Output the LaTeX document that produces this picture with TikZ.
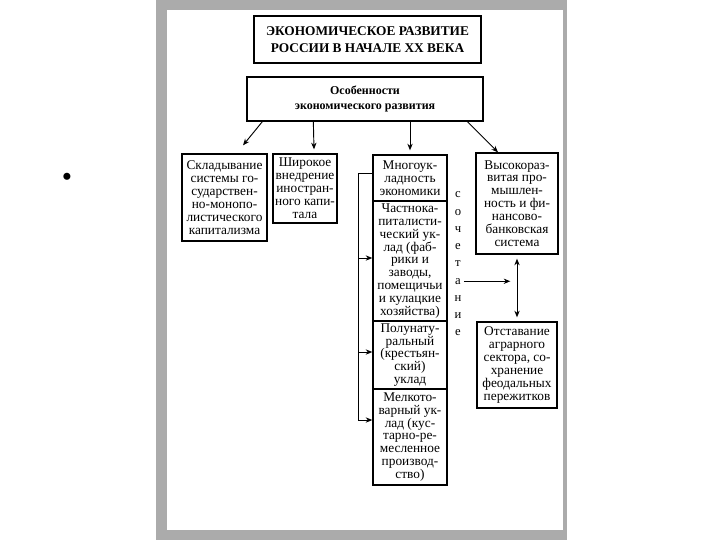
\documentclass[tikz,border=0pt]{standalone}
\usepackage{fontspec}
\setmainfont{Liberation Serif}
\usetikzlibrary{arrows.meta}
\begin{document}
\begin{tikzpicture}[x=0.75pt,y=-0.75pt,
  box/.style={draw,line width=1pt,inner sep=0pt,align=center,font=\fontsize{10}{9.7}\selectfont},
  sz/.style 2 args={minimum width={#1*0.75pt},minimum height={#2*0.75pt}},
  arr/.style={-{Stealth[length=5pt,width=4pt]},line width=0.7pt},
  dbl/.style={{Stealth[length=5pt,width=4pt]}-{Stealth[length=5pt,width=4pt]},line width=0.7pt},
  ln/.style={line width=0.7pt},
  letter/.style={inner sep=0pt,font=\fontsize{9.5}{9.5}\selectfont}]
\useasboundingbox (0,0) rectangle (720,540);
\fill[white] (0,0) rectangle (720,540);
\fill[black!33] (156,0) rectangle (567,540);
\fill[white] (167,10) rectangle (563,530);
\node[font=\fontsize{22}{22}\selectfont,inner sep=0pt] (bullet) at (67,180) {•};

\node[box,sz={227}{47},font=\fontsize{10}{12.5}\selectfont\bfseries] (title) at (367.5,39.5)
  {ЭКОНОМИЧЕСКОЕ РАЗВИТИЕ\\РОССИИ В НАЧАЛЕ XX ВЕКА};
\node[box,sz={236}{44},font=\fontsize{9}{11}\selectfont\bfseries] (feat) at (365,99)
  {Особенности\\экономического развития};

\node[box,sz={85}{87}] (b1) at (224.5,197.5)
  {Складывание\\системы го-\\сударствен-\\но-монопо-\\листического\\капитализма};
\node[box,sz={64}{69}] (b2) at (305,188.5)
  {Широкое\\внедрение\\иностран-\\ного капи-\\тала};
\node[box,sz={74}{46}] (mh) at (410,178) {Многоук-\\ладность\\экономики};
\node[box,sz={74}{120}] (ch) at (410,261)
  {Частнока-\\питалисти-\\ческий ук-\\лад (фаб-\\рики и\\заводы,\\помещичьи\\и кулацкие\\хозяйства)};
\node[box,sz={74}{68}] (pol) at (410,355)
  {Полунату-\\ральный\\(крестьян-\\ский)\\уклад};
\node[box,sz={74}{96}] (mel) at (410,437)
  {Мелкото-\\варный ук-\\лад (кус-\\тарно-ре-\\месленное\\производ-\\ство)};
\node[box,sz={82}{101}] (b4) at (517,203.5)
  {Высокораз-\\витая про-\\мышлен-\\ность и фи-\\нансово-\\банковская\\система};
\node[box,sz={80}{86}] (b5) at (517,365)
  {Отставание\\аграрного\\сектора, со-\\хранение\\феодальных\\пережитков};

\foreach \l [count=\i] in {с,о,ч,е,т,а,н,и,е}
  \node[letter] (s\i) at (458,{195+17.25*(\i-1)}) {\l};

% arrows from features box
\draw[arr] (feat.south west) ++(16,0) -- ([shift={(18.5,-8)}]b1.north);
\draw[arr] (feat.south west) ++(67,0) -- ([shift={(9,-4)}]b2.north);
\draw[arr] (feat.south -| mh.north) -- ([shift={(0,-4)}]mh.north);
\draw[arr] (feat.south west) ++(221,0) -- ([shift={(-19,0)}]b4.north);

% bracket on the left of the column
\coordinate (bt) at (358,173);
\coordinate (bb) at (358,420);
\draw[ln] (mh.west |- bt) -- (bt) -- (bb);
\draw[arr] (bt |- ch.west) ++(0,-3) -- ([shift={(0,-3)}]ch.west);
\draw[arr] (bt |- pol.west) ++(0,-3) -- ([shift={(0,-3)}]pol.west);
\draw[arr] (bb) -- (bb -| mel.west);

% сочетание arrow and double arrow
\draw[arr,shorten >=5pt] ([xshift=2pt]s6.east) -- (s6.east -| b4.south);
\draw[dbl,shorten <=3pt,shorten >=3pt] (b4.south) -- (b5.north);
\end{tikzpicture}
\end{document}
